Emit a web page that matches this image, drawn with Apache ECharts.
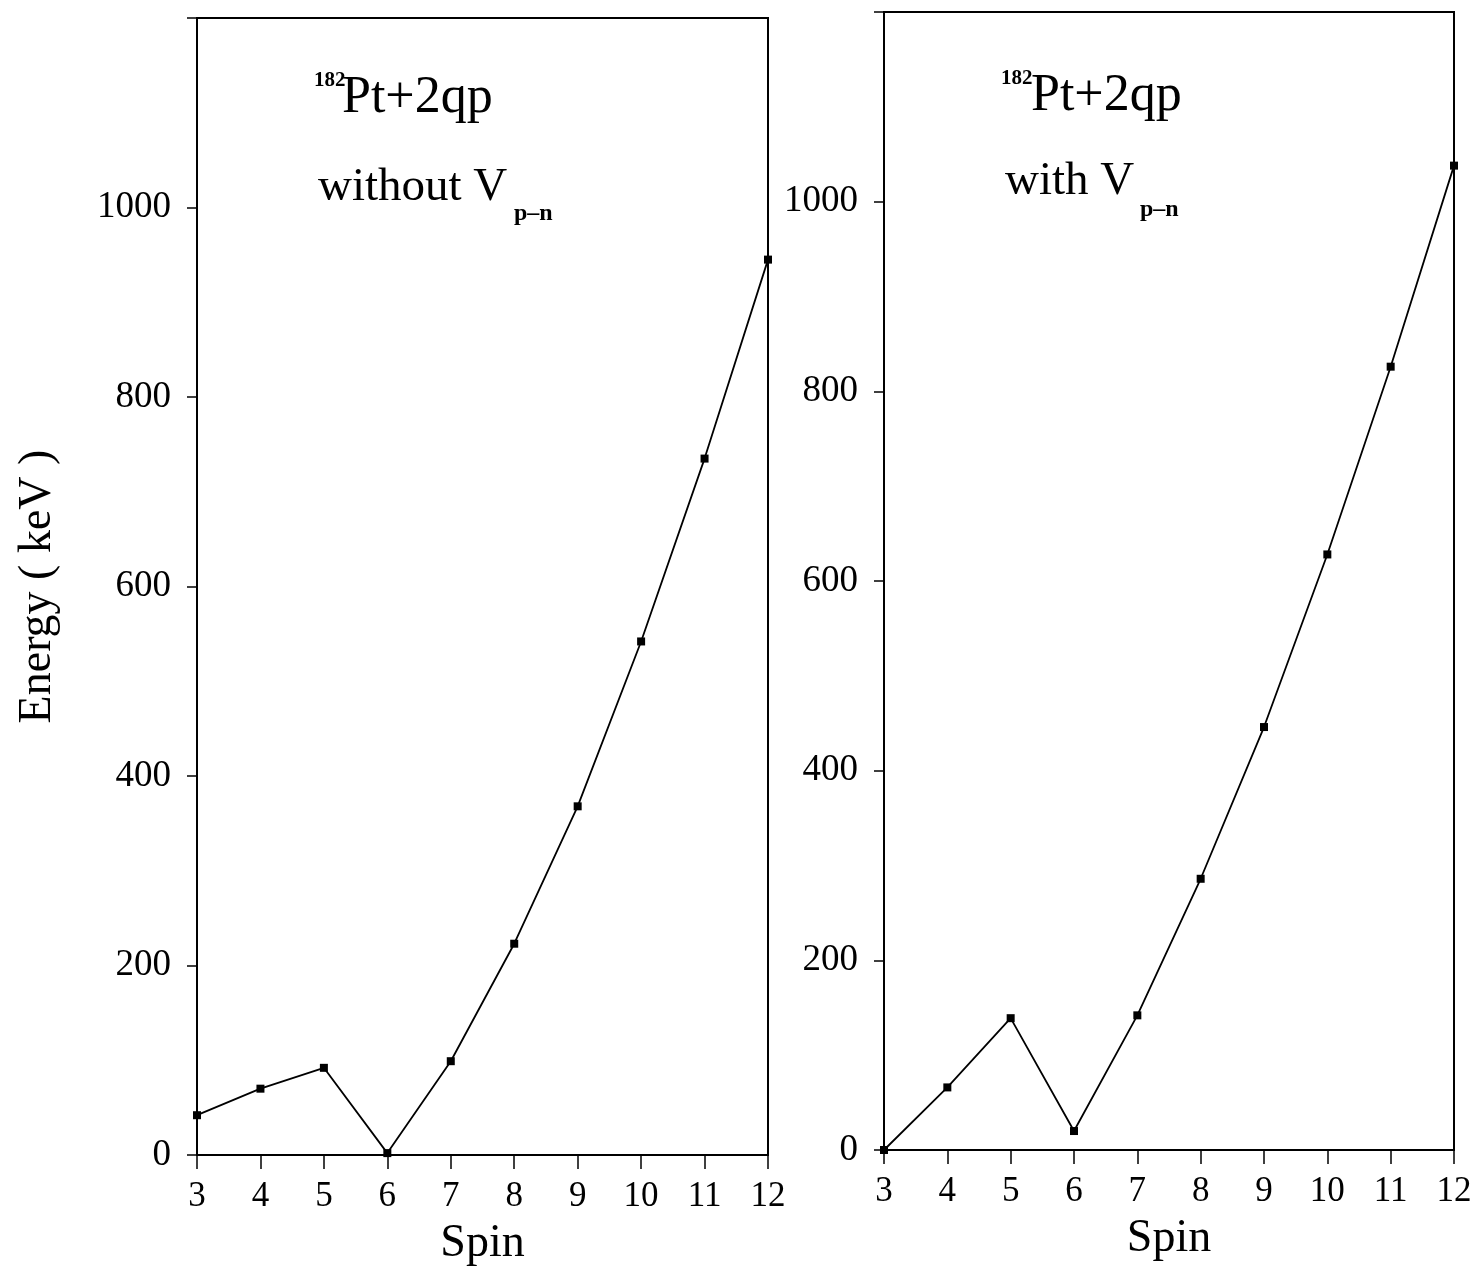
<!DOCTYPE html>
<html>
<head>
<meta charset="utf-8">
<script src="https://cdn.jsdelivr.net/npm/echarts@6/dist/echarts.min.js"></script>
<style>
  html, body { margin: 0; padding: 0; background: #fff; }
  #main { width: 1482px; height: 1274px; }
</style>
</head>
<body>
<div id="main"></div>
<script>
// spin values and level energies (keV)
var spins = [3, 4, 5, 6, 7, 8, 9, 10, 11, 12];
var energyWithout = [42, 70, 92, 2, 99, 223, 368, 542, 735, 945];
var energyWith = [0, 66, 139, 20, 142, 286, 446, 628, 826, 1038];
var yTicks = [0, 200, 400, 600, 800, 1000];

var FONT = 'Liberation Serif';
var myChart = echarts.init(document.getElementById('main'));

function pairs(ys) {
    return spins.map(function (s, i) { return [s, ys[i]]; });
}

function xAxisOf(idx) {
    return {
        gridIndex: idx,
        type: 'value',
        min: 3,
        max: 12,
        interval: 1,
        name: 'Spin',
        nameLocation: 'middle',
        nameGap: 66,
        nameTextStyle: { fontFamily: FONT, fontSize: 46, color: '#000' },
        axisLine: { lineStyle: { color: '#000', width: 2 } },
        axisTick: { show: true, inside: false, length: 14, lineStyle: { color: '#000', width: 1.5 } },
        axisLabel: { fontFamily: FONT, fontSize: 35, color: '#000', margin: 24 },
        splitLine: { show: false }
    };
}

function yAxisOf(idx, withName) {
    return {
        gridIndex: idx,
        type: 'value',
        min: 0,
        max: 1200,
        interval: 200,
        name: withName ? 'Energy ( keV )' : '',
        nameLocation: 'middle',
        nameGap: 136,
        nameRotate: 90,
        nameTextStyle: { fontFamily: FONT, fontSize: 46, color: '#000' },
        axisLine: { show: true, lineStyle: { color: '#000', width: 2 } },
        axisTick: { show: true, inside: false, length: 10, lineStyle: { color: '#000', width: 1.5 } },
        axisLabel: {
            fontFamily: FONT, fontSize: 37, color: '#000', margin: 26,
            formatter: function (v) { return yTicks.indexOf(v) >= 0 ? v : ''; }
        },
        splitLine: { show: false }
    };
}

function seriesOf(idx, ys) {
    return {
        type: 'line',
        xAxisIndex: idx,
        yAxisIndex: idx,
        data: pairs(ys),
        symbol: 'rect',
        symbolSize: 8,
        lineStyle: { color: '#000', width: 1.8 },
        itemStyle: { color: '#000' },
        animation: false
    };
}

function label(x, y, text, size, weight) {
    return {
        type: 'text', left: x, top: y,
        style: { text: text, fontFamily: FONT, fontSize: size, fontWeight: weight || 'normal', fill: '#000' }
    };
}

var option = {
    backgroundColor: '#fff',
    animation: false,
    grid: [
        { left: 197, top: 18, width: 571, height: 1137, show: true, borderColor: '#000', borderWidth: 2, backgroundColor: 'transparent' },
        { left: 884, top: 12, width: 570, height: 1138, show: true, borderColor: '#000', borderWidth: 2, backgroundColor: 'transparent' }
    ],
    xAxis: [xAxisOf(0), xAxisOf(1)],
    yAxis: [yAxisOf(0, true), yAxisOf(1, false)],
    series: [seriesOf(0, energyWithout), seriesOf(1, energyWith)],
    graphic: [
        label(314, 70, '182', 21, 'bold'),
        label(342, 72, 'Pt+2qp', 52),
        label(318, 164, 'without V', 47),
        label(514, 202, 'p\u2013n', 24, 'bold'),
        label(1001, 68, '182', 21, 'bold'),
        label(1031, 70, 'Pt+2qp', 52),
        label(1005, 158, 'with V', 47),
        label(1140, 198, 'p\u2013n', 24, 'bold')
    ]
};

myChart.setOption(option);
</script>
</body>
</html>
